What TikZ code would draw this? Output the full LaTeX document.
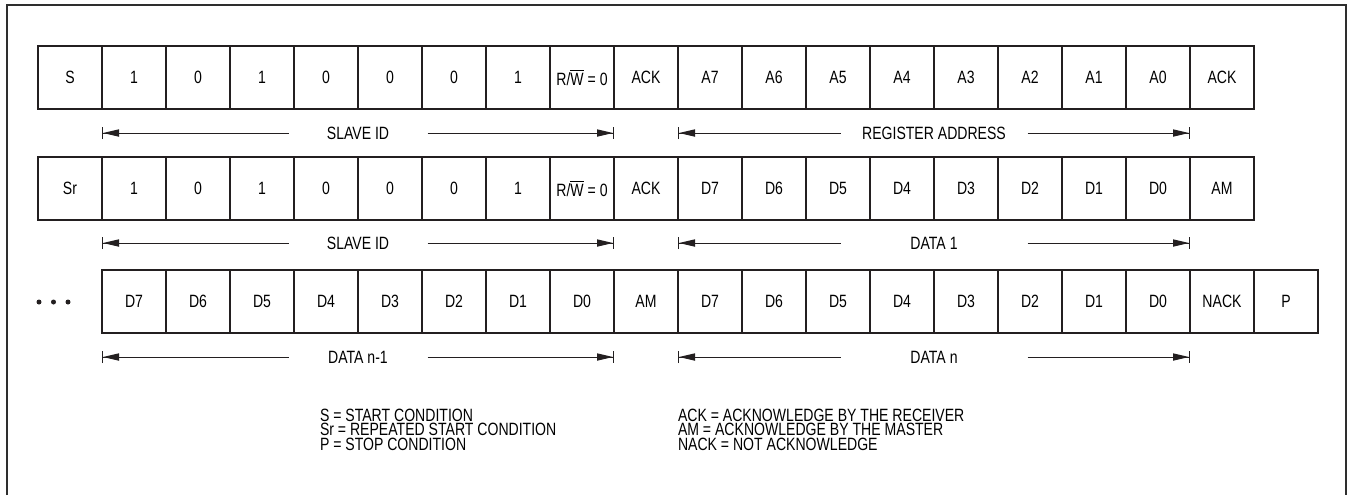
\documentclass[tikz,border=0pt]{standalone}
\usepackage{fontspec}
\setmainfont{Liberation Sans}[FakeStretch=0.79]
\usetikzlibrary{arrows.meta}

\begin{document}
\begin{tikzpicture}[
  x=0.5pt, y=-0.5pt,
  font=\fontsize{8.9}{10}\selectfont,
  every node/.style={inner sep=0pt, outer sep=0pt},
  cell/.style={draw=ink, line width=0.75pt, minimum width=32pt, minimum height=31.5pt},
  spanlbl/.style={minimum width=#1},
  span/.style={draw=ink, line width=0.5pt,
    -{Triangle[length=8pt,width=3.6pt]Bar[width=6pt]}},
  legend/.style={anchor=base west},
]

\definecolor{ink}{HTML}{231F20}
\definecolor{rim}{HTML}{2E2E2E}

\def\rowA{77.5}   % write to register
\def\rowB{188.5}  % repeated start, data 1
\def\rowC{301.5}  % data n-1, data n
\def\RW{R/$\overline{\mbox{W}}$ = 0}

\useasboundingbox (0,0) rectangle (1351,495);

% outer frame
\draw[rim, line width=0.9pt] (7,495) -- (7,5) -- (1346,5) -- (1346,495);

% first row
\foreach \lab [count=\i from 0] in {S,1,0,1,0,0,0,1,\RW,ACK,A7,A6,A5,A4,A3,A2,A1,A0,ACK}
  \node[cell] (a\i) at ({70+64*\i},\rowA) {\lab};

% second row
\foreach \lab [count=\i from 0] in {Sr,1,0,1,0,0,0,1,\RW,ACK,D7,D6,D5,D4,D3,D2,D1,D0,AM}
  \node[cell] (b\i) at ({70+64*\i},\rowB) {\lab};

% third row
\foreach \lab [count=\i from 0] in {D7,D6,D5,D4,D3,D2,D1,D0,AM,D7,D6,D5,D4,D3,D2,D1,D0,NACK,P}
  \node[cell] (c\i) at ({134+64*\i},\rowC) {\lab};

\foreach \x in {39,53.5,68}
  \fill[ink] (\x,302) circle (1.25pt);

% spans
\node[spanlbl=69.5pt] (sid1) at (a5.west |- 0,133) {SLAVE ID};
\draw[span] (sid1.west) -- (a1.west |- sid1.west);
\draw[span] (sid1.east) -- (a9.west |- sid1.east);

\node[spanlbl=93.5pt] (regad) at (a14.west |- 0,133) {REGISTER ADDRESS};
\draw[span] (regad.west) -- (a10.west |- regad.west);
\draw[span] (regad.east) -- (a18.west |- regad.east);

\node[spanlbl=69.5pt] (sid2) at (b5.west |- 0,243) {SLAVE ID};
\draw[span] (sid2.west) -- (b1.west |- sid2.west);
\draw[span] (sid2.east) -- (b9.west |- sid2.east);

\node[spanlbl=93.5pt] (dat1) at (b14.west |- 0,243) {DATA 1};
\draw[span] (dat1.west) -- (b10.west |- dat1.west);
\draw[span] (dat1.east) -- (b18.west |- dat1.east);

\node[spanlbl=69.5pt] (datm) at (c4.west |- 0,357) {DATA n-1};
\draw[span] (datm.west) -- (c0.west |- datm.west);
\draw[span] (datm.east) -- (c8.west |- datm.east);

\node[spanlbl=93.5pt] (datn) at (c13.west |- 0,357) {DATA n};
\draw[span] (datn.west) -- (c9.west |- datn.west);
\draw[span] (datn.east) -- (c17.west |- datn.east);

% key
\node[legend] (keys)  at (320,421.5) {S = START CONDITION};
\node[legend] (keysr) at (320,435.8) {Sr = REPEATED START CONDITION};
\node[legend] (keyp)  at (320,450.1) {P = STOP CONDITION};
\node[legend] (keyack)  at (678,421.5) {ACK = ACKNOWLEDGE BY THE RECEIVER};
\node[legend] (keyam)   at (678,435.8) {AM = ACKNOWLEDGE BY THE MASTER};
\node[legend] (keynack) at (678,450.1) {NACK = NOT ACKNOWLEDGE};

\end{tikzpicture}
\end{document}
